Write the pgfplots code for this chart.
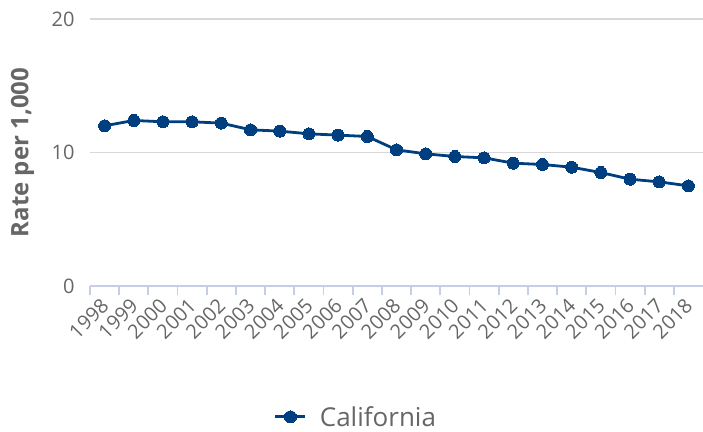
\documentclass[border=0pt]{standalone}
\usepackage{fontspec}
\setmainfont{Open Sans}
\usepackage{pgfplots}
\pgfplotsset{compat=1.18}
\definecolor{linec}{HTML}{003F7F}
\definecolor{txt}{HTML}{666666}
\definecolor{axisc}{HTML}{C4CFE3}
\definecolor{gridc}{HTML}{D8D8D8}
\begin{document}
\begin{tikzpicture}
\useasboundingbox (0,0) rectangle (703pt,431pt);
\begin{axis}[
  at={(90pt,145pt)}, anchor=south west,
  scale only axis, width=613pt, height=267pt,
  xmin=-0.5, xmax=20.5, ymin=0, ymax=20,
  axis lines*=left,
  y axis line style={draw=none},
  x axis line style={draw=axisc, line width=1.6pt},
  ytick={0,10,20},
  ymajorgrids, grid style={draw=gridc, line width=1.4pt},
  xtick={-0.5,0.5,1.5,2.5,3.5,4.5,5.5,6.5,7.5,8.5,9.5,10.5,11.5,12.5,13.5,14.5,15.5,16.5,17.5,18.5,19.5},
  xticklabels={},
  extra x ticks={0,1,2,3,4,5,6,7,8,9,10,11,12,13,14,15,16,17,18,19,20},
  extra x tick labels={1998,1999,2000,2001,2002,2003,2004,2005,2006,2007,2008,2009,2010,2011,2012,2013,2014,2015,2016,2017,2018},
  extra x tick style={major tick length=0pt, xticklabel style={rotate=45, anchor=east, xshift=-8pt, yshift=-12pt}},
  major tick length=9pt,
  tick align=outside,
  x tick style={draw=axisc, line width=1.8pt},
  y tick style={draw=none},
  /pgf/number format/assume math mode=true,
  tick label style={font=\fontsize{20}{20}\selectfont, text=txt},
  yticklabel style={anchor=east, xshift=-3pt},
  ylabel={\textbf{Rate per 1,000}},
  every axis y label/.style={at={(axis description cs:-0.11,0.5)}, anchor=center, rotate=90, font=\fontsize{24}{24}\selectfont, text=txt},
  legend style={at={(0.434,-0.49)}, anchor=center, draw=none, fill=none, font=\fontsize{26}{26}\selectfont, text=txt},
  legend image code/.code={\draw[#1, mark repeat=2, mark phase=2] plot coordinates {(0pt,0pt) (15pt,0pt) (30pt,0pt)}; \path (41pt,0pt);},
]
\addplot[linec, line width=2.8pt, mark=*, mark size=6pt, mark options={fill=linec, draw=linec, line width=0pt}] coordinates {
(0,12.0) (1,12.4) (2,12.3) (3,12.3) (4,12.2) (5,11.7) (6,11.6) (7,11.4) (8,11.3) (9,11.2)
(10,10.2) (11,9.9) (12,9.7) (13,9.6) (14,9.2) (15,9.1) (16,8.9) (17,8.5) (18,8.0) (19,7.8) (20,7.5)
};
\addlegendentry{California}
\end{axis}
\end{tikzpicture}
\end{document}
